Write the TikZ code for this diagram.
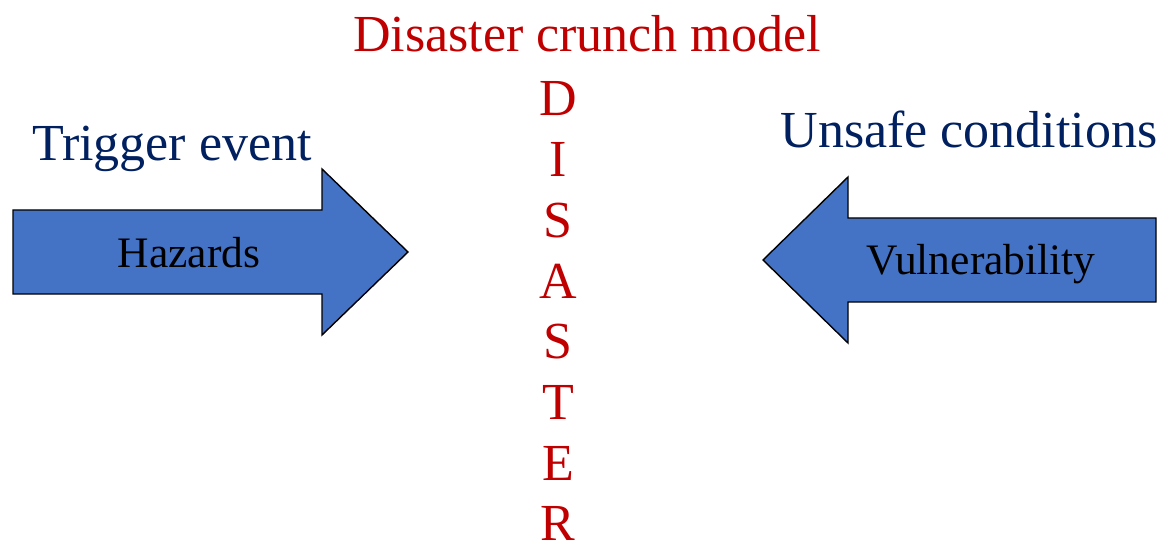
\documentclass[tikz,border=0pt]{standalone}
\usepackage{fontspec}
\setmainfont{Liberation Serif}
\definecolor{crunchred}{HTML}{C00000}
\definecolor{navy}{HTML}{002060}
\definecolor{arrowblue}{HTML}{4472C4}
\tikzset{
  bigarrow/.style={draw=black, fill=arrowblue, line width=1.4pt, line join=miter},
  redtext/.style={text=crunchred, font=\fontsize{52}{60}\selectfont, inner sep=0pt, anchor=base},
  navytext/.style={text=navy, font=\fontsize{52}{60}\selectfont, inner sep=0pt, anchor=base},
  arrowtext/.style={text=black, font=\fontsize{43.5}{50}\selectfont, inner sep=0pt, anchor=base},
}
\begin{document}
\begin{tikzpicture}[x=1pt,y=-1pt]
\useasboundingbox (0,0) rectangle (1161,545);
% arrows
\draw[bigarrow] (13,210) -- (322,210) -- (322,169) -- (408,252) -- (322,335) -- (322,294) -- (13,294) -- cycle;
\draw[bigarrow] (1156,218) -- (848,218) -- (848,177) -- (763,260) -- (848,343) -- (848,302) -- (1156,302) -- cycle;
% labels
\node[arrowtext] (hazards) at (189,267) {Hazards};
\node[arrowtext] (vuln) at (981,275) {Vulnerability};
\node[navytext] (trigger) at (172,161) {Trigger event};
\node[navytext] (unsafe) at (969,148) {Unsafe conditions};
\node[redtext] (title) at (587,52) {Disaster crunch model};
\foreach \ch [count=\i] in {D,I,S,A,S,T,E,R} {
  \node[redtext] (l\i) at (558,{116+60.7*(\i-1)}) {\ch};
}
\end{tikzpicture}
\end{document}
